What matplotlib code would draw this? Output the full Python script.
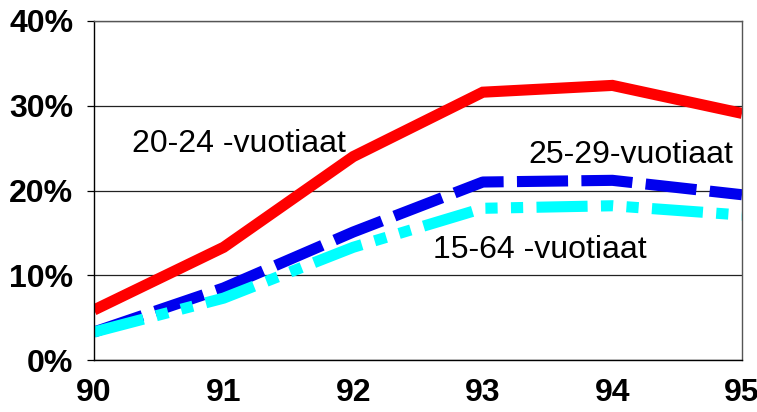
import matplotlib
matplotlib.use("Agg")
import matplotlib.pyplot as plt
from matplotlib.ticker import FuncFormatter

years = [90, 91, 92, 93, 94, 95]
age_20_24 = [5.9, 13.3, 24.0, 31.6, 32.4, 29.1]
age_25_29 = [3.3, 8.5, 15.1, 21.0, 21.2, 19.5]
age_15_64 = [3.3, 7.3, 13.3, 17.9, 18.2, 17.1]
labels = ["20-24 -vuotiaat", "25-29-vuotiaat", "15-64 -vuotiaat"]
yticks = [0, 10, 20, 30, 40]

plt.rcParams['font.family'] = ['Liberation Sans', 'DejaVu Sans']

fig = plt.figure(figsize=(7.57, 4.12), dpi=100)
ax = fig.add_axes([94/757, 1-360/412, (742-94)/757, (360-21)/412])

lw = 8
l2, = ax.plot(years, age_25_29, color='#0000ee', lw=lw, solid_capstyle='butt', dash_capstyle='butt')
l2.set_dashes([4.6, 1.2])
l3, = ax.plot(years, age_15_64, color='#00ffff', lw=lw, solid_capstyle='butt', dash_capstyle='butt')
l3.set_dashes([4.6, 1.2, 1.1, 1.2, 1.1, 1.2])
ax.plot(years, age_20_24, color='#ff0000', lw=lw, solid_capstyle='butt', solid_joinstyle='miter')

ax.set_xlim(90, 95)
ax.set_ylim(0, 40)
ax.set_xticks(years)
ax.set_xticklabels([str(y) for y in years])
ax.set_yticks(yticks)
ax.yaxis.set_major_formatter(FuncFormatter(lambda v, p: f"{v:.0f}%"))
ax.grid(axis='y', color='#222222', lw=0.9)
ax.set_axisbelow(True)

for side in ['top', 'right']:
    ax.spines[side].set_color('#555555')
    ax.spines[side].set_linewidth(1.0)
ax.spines['left'].set_color('black')
ax.spines['bottom'].set_color('black')
ax.spines['left'].set_linewidth(1.0)
ax.spines['bottom'].set_linewidth(1.0)

ax.tick_params(axis='y', length=5, width=0.9, pad=10, labelsize=23)
ax.tick_params(axis='x', length=0, pad=13, labelsize=23)
for t in ax.get_xticklabels() + ax.get_yticklabels():
    t.set_fontweight('bold')

ax.text(90.293, 24.5, labels[0], fontsize=23, ha='left', va='baseline')
ax.text(94.93, 23.2, labels[1], fontsize=23, ha='right', va='baseline')
ax.text(92.616, 12.0, labels[2], fontsize=23, ha='left', va='baseline')

fig.savefig('out.png', dpi=100)
